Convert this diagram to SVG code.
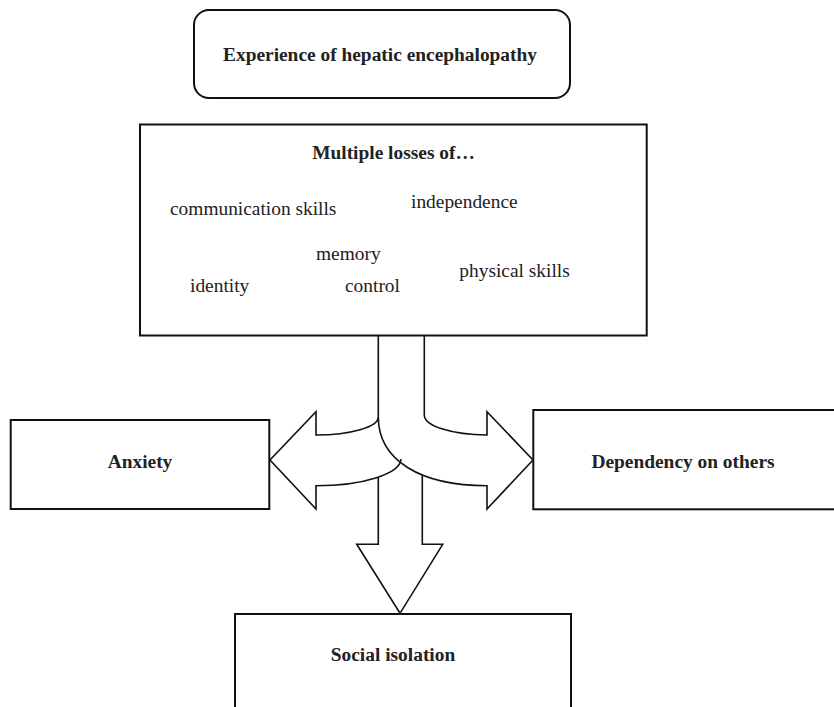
<svg xmlns="http://www.w3.org/2000/svg" width="834" height="707" viewBox="0 0 834 707">
<style>
.box{fill:#fff;stroke:#111;stroke-width:2}
.ln{fill:none;stroke:#111;stroke-width:1.6;stroke-linejoin:miter}
.b{font-family:"Liberation Serif","Times New Roman",serif;font-weight:bold;font-size:19.4px;fill:#222}
.r{font-family:"Liberation Serif","Times New Roman",serif;font-size:19.4px;fill:#222}
</style>
<rect width="834" height="707" fill="#fff"/>
<g id="connectors">
<path class="ln" d="M378.3,336 V417 A62,18 0 0 1 316,435 V411.7 L270,460 L316,509 V485.7 A85,27 0 0 0 401,459"/>
<path class="ln" d="M378.3,417 C378.3,460 420,485.7 487,485.7 V509 L533,460 L487,411.7 V435 A63,20 0 0 1 424.3,415 V336"/>
<path class="ln" d="M378.3,477 V544.3 H356.7 L400,613.3 L442.7,544.3 H422.3 V475.5"/>
</g>
<g id="title">
<rect class="box" x="194" y="10" width="376" height="88" rx="15"/>
<text class="b" x="380" y="61" text-anchor="middle">Experience of hepatic encephalopathy</text>
</g>
<g id="losses">
<rect class="box" x="140" y="124.5" width="506.7" height="211"/>
<text class="b" x="393.5" y="159" text-anchor="middle">Multiple losses of…</text>
<text class="r" x="170" y="215">communication skills</text>
<text class="r" x="411" y="207.5">independence</text>
<text class="r" x="316" y="259.5">memory</text>
<text class="r" x="190" y="291.5">identity</text>
<text class="r" x="345" y="292">control</text>
<text class="r" x="459.3" y="277">physical skills</text>
</g>
<g id="anxiety">
<rect class="box" x="10.7" y="420" width="258.6" height="89"/>
<text class="b" x="140" y="468" text-anchor="middle">Anxiety</text>
</g>
<g id="dependency">
<rect class="box" x="533.3" y="410" width="320" height="99.3"/>
<text class="b" x="683" y="468" text-anchor="middle">Dependency on others</text>
</g>
<g id="isolation">
<rect class="box" x="235" y="614" width="336" height="110"/>
<text class="b" x="393" y="661" text-anchor="middle">Social isolation</text>
</g>
</svg>
